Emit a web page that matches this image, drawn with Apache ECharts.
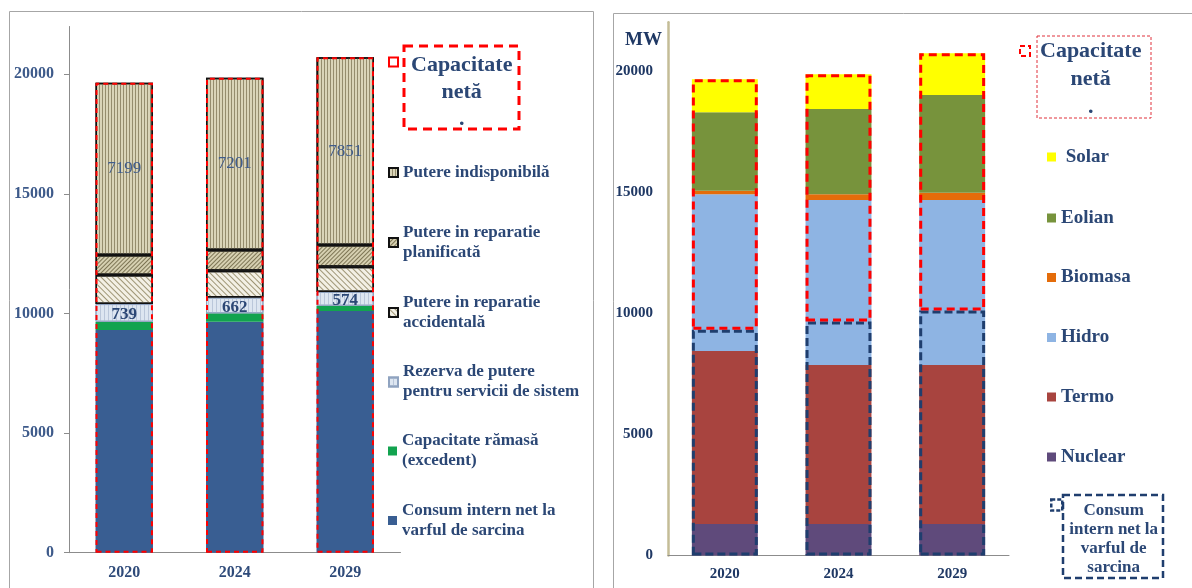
<!DOCTYPE html>
<html>
<head>
<meta charset="utf-8">
<script src="https://cdn.jsdelivr.net/npm/echarts@6/dist/echarts.min.js"></script>
<style>
html,body{margin:0;padding:0;background:#fff;}
#chart{width:1192px;height:588px;}
</style>
</head>
<body>
<div id="chart"></div>
<script>
// ---------- data ----------
const years = ['2020', '2024', '2029'];
const yTicks = [0, 5000, 10000, 15000, 20000];

// left chart (MW)
const consumNet = [9310, 9657, 10104];
const capRamasa = [347, 351, 222];
const rezerva = [739, 662, 574];
const reparatieAccid = [1213, 1119, 1057];
const reparatiePlan = [836, 865, 907];
const indisponibil = [7199, 7201, 7851];

// right chart (MW)
const nuclear = [1300, 1300, 1300];
const termo = [7137, 6559, 6559];
const hidro = [6464, 6811, 6811];
const biomasa = [150, 230, 297];
const eolian = [3234, 3519, 4030];
const solar = [1359, 1436, 1718];

// ---------- derived ----------
const totalLeft = years.map((_, i) => consumNet[i] + capRamasa[i] + rezerva[i] + reparatieAccid[i] + reparatiePlan[i] + indisponibil[i]);
const totalRight = years.map((_, i) => nuclear[i] + termo[i] + hidro[i] + biomasa[i] + eolian[i] + solar[i]);
const aboveConsum = years.map((_, i) => totalRight[i] - consumNet[i]);

const SERIF = 'Liberation Serif';
const LBLUE = '#2B4775';
const NAME_CAP = 'Capacitate netă';
const NAME_CONSUM = 'Consum intern net la varful de sarcina';

const chart = echarts.init(document.getElementById('chart'), null, {renderer: 'canvas'});

function yAxis(grid, color, size, extra) {
  return Object.assign({
    type: 'value', gridIndex: grid, min: 0, max: 22000, interval: 5000,
    splitLine: {show: false},
    axisLabel: {showMaxLabel: false, formatter: v => (yTicks.indexOf(v) >= 0 ? String(v) : ''),
      fontFamily: SERIF, fontWeight: 'bold', fontSize: size, color: color, margin: 15},
  }, extra);
}

function leg(name, left, top, opts) {
  opts = opts || {};
  return {
    data: [Object.assign({name: name, icon: 'rect'}, opts.item || {})],
    left: left, top: top, orient: 'vertical', padding: 0,
    itemWidth: opts.w || 9, itemHeight: opts.h || 9,
    formatter: opts.formatter,
    selectedMode: false,
    textStyle: Object.assign({fontFamily: SERIF, fontWeight: 'bold', fontSize: 17, color: LBLUE, lineHeight: 20}, opts.text || {})
  };
}

const blackBorder = {borderColor: '#111', borderWidth: 1.5};

const option = {
  animation: false,
  backgroundColor: '#fff',
  grid: [
    {left: 69, right: 791.5, top: 26.5, bottom: 35.3},
    {left: 668, right: 183, top: 22.2, bottom: 32.5}
  ],
  xAxis: [
    {type: 'category', gridIndex: 0, data: years,
      axisLine: {lineStyle: {color: '#8C8C8C', width: 1}}, axisTick: {show: false},
      axisLabel: {fontFamily: SERIF, fontWeight: 'bold', fontSize: 16, color: '#2F4B7A', margin: 12}},
    {type: 'category', gridIndex: 1, data: years,
      axisLine: {lineStyle: {color: '#8C8C8C', width: 1}}, axisTick: {show: false},
      axisLabel: {fontFamily: SERIF, fontWeight: 'bold', fontSize: 15, color: '#1F3864', margin: 11}}
  ],
  yAxis: [
    yAxis(0, '#3D5A8A', 16, {
      axisLine: {show: true, lineStyle: {color: '#8C8C8C', width: 1}},
      axisTick: {show: true, length: 5, lineStyle: {color: '#8C8C8C'}}
    }),
    yAxis(1, '#1F3864', 15, {
      name: 'MW', nameLocation: 'end', nameGap: -18,
      nameTextStyle: {fontFamily: SERIF, fontWeight: 'bold', fontSize: 19, color: '#1F3864', align: 'right', verticalAlign: 'middle', padding: [0, 6, 0, 0]},
      axisLine: {show: true, lineStyle: {color: '#C4BD97', width: 2.5}},
      axisTick: {show: false}
    })
  ],
  legend: [
    // left legend
    leg(NAME_CAP, 388, -8.5, {
      formatter: '{c|Capacitate}\n{c|netă}\n{c|.}',
      text: {lineHeight: 27, padding: [60, 0, 0, 8], rich: {c: {align: 'center', fontFamily: SERIF, fontWeight: 'bold', fontSize: 22, color: LBLUE, lineHeight: 27}}}
    }),
    leg('Putere indisponibilă', 388, 162.5),
    leg('Putere in reparatie planificată', 388, 212.5, {formatter: 'Putere in reparatie\nplanificată', text: {padding: [20, 0, 0, 0]}}),
    leg('Putere in reparatie accidentală', 388, 282.5, {formatter: 'Putere in reparatie\naccidentală', text: {padding: [20, 0, 0, 0]}}),
    leg('Rezerva de putere pentru servicii de sistem', 388, 352, {formatter: 'Rezerva de putere\npentru servicii de sistem', text: {padding: [20, 0, 0, 0]}}),
    leg('Capacitate rămasă (excedent)', 388, 421, {formatter: 'Capacitate rămasă\n(excedent)', text: {padding: [20, 0, 0, 0]}}),
    leg(NAME_CONSUM, 388, 490.5, {formatter: 'Consum intern net la\nvarful de sarcina', text: {padding: [20, 0, 0, 0]},
      item: {itemStyle: {color: '#395E92', borderWidth: 0}}}),
    // right legend
    leg(NAME_CAP, 1019, -19, {
      w: 10, h: 10,
      item: {itemStyle: {color: 'rgba(0,0,0,0)', borderColor: '#FF0000', borderWidth: 2, borderType: [5, 3]}},
      formatter: '{c|Capacitate}\n{c|netă}\n{c|.}',
      text: {lineHeight: 28, padding: [56, 0, 0, 5], rich: {c: {align: 'center', fontFamily: SERIF, fontWeight: 'bold', fontSize: 22, color: LBLUE, lineHeight: 28}}}
    }),
    leg('Solar', 1047, 147, {formatter: ' Solar', text: {fontSize: 19}}),
    leg('Eolian', 1047, 208, {text: {fontSize: 19}}),
    leg('Biomasa', 1047, 267.5, {text: {fontSize: 19}}),
    leg('Hidro', 1047, 327.5, {text: {fontSize: 19}}),
    leg('Termo', 1047, 387, {text: {fontSize: 19}}),
    leg('Nuclear', 1047, 447, {text: {fontSize: 19}}),
    leg(NAME_CONSUM, 1050, 432.5, {
      w: 11, h: 11,
      item: {itemStyle: {color: 'rgba(0,0,0,0)', borderColor: '#1F3E6E', borderWidth: 2.5, borderType: [4, 2], decal: 'none'}},
      formatter: '{c|Consum}\n{c|intern net la}\n{c|varful de}\n{c|sarcina}',
      text: {lineHeight: 19, padding: [69, 0, 0, 2], rich: {c: {align: 'center', fontFamily: SERIF, fontWeight: 'bold', fontSize: 17, color: LBLUE, lineHeight: 19}}}
    })
  ],
  graphic: [
    {type: 'rect', silent: true, shape: {x: 9.5, y: 11.5, width: 584, height: 600}, style: {fill: 'none', stroke: '#A6A6A6', lineWidth: 1}},
    {type: 'rect', silent: true, shape: {x: 613.5, y: 13.5, width: 600, height: 600}, style: {fill: 'none', stroke: '#A6A6A6', lineWidth: 1}},
    {type: 'rect', silent: true, shape: {x: 404, y: 46, width: 115, height: 83}, style: {fill: 'none', stroke: '#FF0000', lineWidth: 3, lineDash: [9, 6]}},
    {type: 'rect', silent: true, shape: {x: 1037, y: 36, width: 114, height: 82}, style: {fill: 'none', stroke: '#E0303A', lineWidth: 1, lineDash: [3, 2]}},
    {type: 'rect', silent: true, shape: {x: 1063, y: 495, width: 100, height: 83}, style: {fill: 'none', stroke: '#1F3E6E', lineWidth: 2.5, lineDash: [7, 4]}}
  ],
  series: [
    // ----- left -----
    {name: NAME_CONSUM, type: 'bar', xAxisIndex: 0, yAxisIndex: 0, stack: 'L', barWidth: '52%', barGap: '-100%',
      data: consumNet, itemStyle: {color: '#395E92'}},
    {name: 'Capacitate rămasă (excedent)', type: 'bar', xAxisIndex: 0, yAxisIndex: 0, stack: 'L', barWidth: '52%', barGap: '-100%',
      data: capRamasa, itemStyle: {color: '#12A34F'}},
    {name: 'Rezerva de putere pentru servicii de sistem', type: 'bar', xAxisIndex: 0, yAxisIndex: 0, stack: 'L', barWidth: '52%', barGap: '-100%',
      data: rezerva,
      itemStyle: {color: '#DDE6F1', borderColor: '#8FA3C0', borderWidth: 1,
        decal: {symbol: 'rect', symbolSize: 1, color: '#BAC7DA', dashArrayX: [1, 3], dashArrayY: [4, 0]}},
      label: {show: true, position: 'inside', fontFamily: SERIF, fontWeight: 'bold', fontSize: 17, color: '#2B4775', offset: [0, 2]}},
    {name: 'Putere in reparatie accidentală', type: 'bar', xAxisIndex: 0, yAxisIndex: 0, stack: 'L', barWidth: '52%', barGap: '-100%',
      data: reparatieAccid,
      itemStyle: Object.assign({color: '#F3F0E5',
        decal: {symbol: 'rect', symbolSize: 1, color: '#9E9575', dashArrayX: [4, 0], dashArrayY: [1, 3], rotation: Math.PI / 4}}, blackBorder)},
    {name: 'Putere in reparatie planificată', type: 'bar', xAxisIndex: 0, yAxisIndex: 0, stack: 'L', barWidth: '52%', barGap: '-100%',
      data: reparatiePlan,
      itemStyle: Object.assign({color: '#D6D0B1',
        decal: {symbol: 'rect', symbolSize: 1, color: '#7D7554', dashArrayX: [4, 0], dashArrayY: [1, 2], rotation: -Math.PI / 4}}, blackBorder)},
    {name: 'Putere indisponibilă', type: 'bar', xAxisIndex: 0, yAxisIndex: 0, stack: 'L', barWidth: '52%', barGap: '-100%',
      data: indisponibil,
      itemStyle: Object.assign({color: '#D9D4B8',
        decal: {symbol: 'rect', symbolSize: 1, color: '#948C6D', dashArrayX: [1, 2], dashArrayY: [4, 0]}}, blackBorder),
      label: {show: true, position: 'inside', fontFamily: SERIF, fontWeight: 'normal', fontSize: 17, color: '#3F5C8C'}},
    {name: NAME_CAP, type: 'bar', xAxisIndex: 0, yAxisIndex: 0, stack: 'LO', barWidth: '52%', barGap: '-100%', z: 5, silent: true,
      data: totalLeft,
      itemStyle: {color: 'rgba(0,0,0,0)', borderColor: '#FF0000', borderWidth: 2, borderType: [5, 4]}},
    // ----- right -----
    {name: 'Nuclear', type: 'bar', xAxisIndex: 1, yAxisIndex: 1, stack: 'R', barWidth: '58%', barGap: '-100%', data: nuclear, itemStyle: {color: '#5F4A7B'}},
    {name: 'Termo', type: 'bar', xAxisIndex: 1, yAxisIndex: 1, stack: 'R', barWidth: '58%', barGap: '-100%', data: termo, itemStyle: {color: '#A8443F'}},
    {name: 'Hidro', type: 'bar', xAxisIndex: 1, yAxisIndex: 1, stack: 'R', barWidth: '58%', barGap: '-100%', data: hidro, itemStyle: {color: '#8EB4E3'}},
    {name: 'Biomasa', type: 'bar', xAxisIndex: 1, yAxisIndex: 1, stack: 'R', barWidth: '58%', barGap: '-100%', data: biomasa, itemStyle: {color: '#E46C0A'}},
    {name: 'Eolian', type: 'bar', xAxisIndex: 1, yAxisIndex: 1, stack: 'R', barWidth: '58%', barGap: '-100%', data: eolian, itemStyle: {color: '#77933C'}},
    {name: 'Solar', type: 'bar', xAxisIndex: 1, yAxisIndex: 1, stack: 'R', barWidth: '58%', barGap: '-100%', data: solar, itemStyle: {color: '#FFFF00'}},
    {name: NAME_CONSUM, type: 'bar', xAxisIndex: 1, yAxisIndex: 1, stack: 'RO', barWidth: '58%', barGap: '-100%', z: 5, silent: true,
      data: consumNet,
      itemStyle: {color: 'rgba(0,0,0,0)', borderColor: '#1F3E6E', borderWidth: 3, borderType: [8, 4]}},
    {name: NAME_CAP, type: 'bar', xAxisIndex: 1, yAxisIndex: 1, stack: 'RO', barWidth: '58%', barGap: '-100%', z: 6, silent: true,
      data: aboveConsum,
      itemStyle: {color: 'rgba(0,0,0,0)', borderColor: '#FF0000', borderWidth: 3, borderType: [8, 5]}}
  ]
};
chart.setOption(option);
</script>
</body>
</html>
